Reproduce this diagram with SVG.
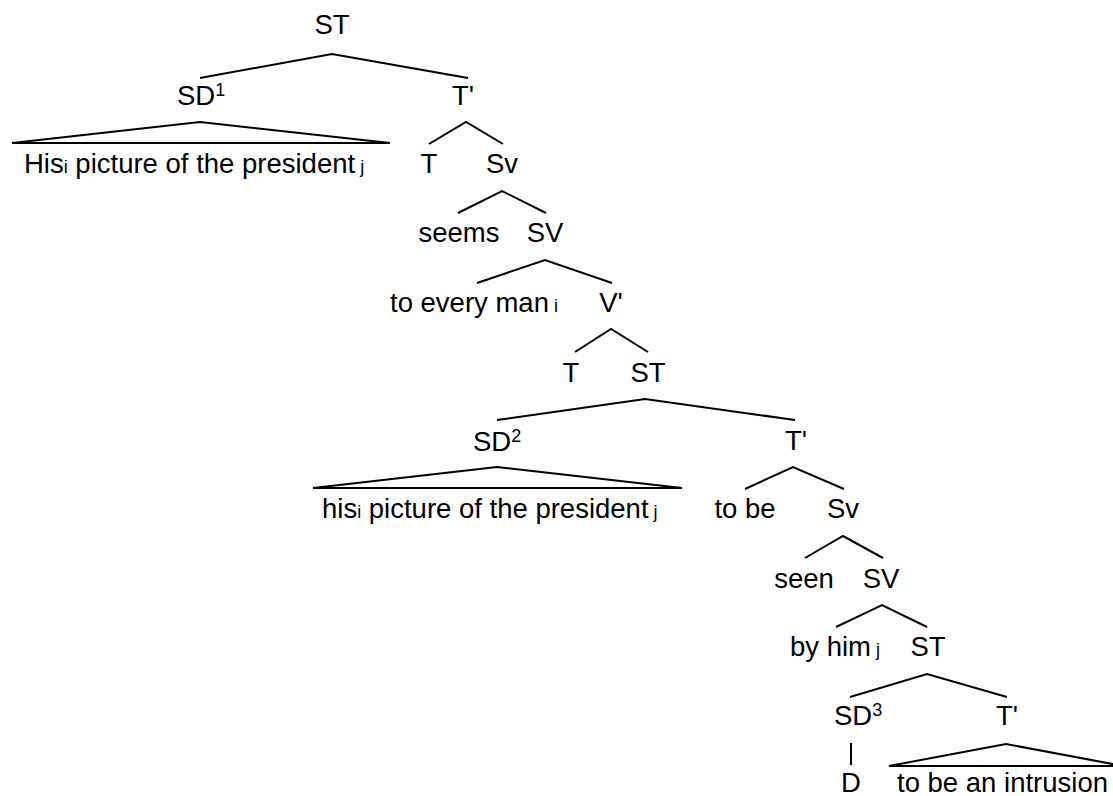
<svg xmlns="http://www.w3.org/2000/svg" width="1113" height="796" viewBox="0 0 1113 796">
<style>
text{font-family:"Liberation Sans",Arial,sans-serif;font-size:27.5px;fill:#000}
.c{text-anchor:middle}
.s{font-size:18px}
.e{stroke:#000;stroke-width:2;fill:none;stroke-linejoin:miter}
</style>
<rect width="1113" height="796" fill="#fff"/>
<g id="connectors">
<polyline class="e" points="200,78 332,54 468,78"/>
<path class="e" d="M12,143 L200,122 L390,143 Z"/>
<polyline class="e" points="429,144 466,122 503,144"/>
<polyline class="e" points="458,213 502,191 546,213"/>
<polyline class="e" points="477,283 545,260 612,283"/>
<polyline class="e" points="575,352 611,329 648,352"/>
<polyline class="e" points="497,420 645,399 795,420"/>
<path class="e" d="M313,488 L497,467 L682,488 Z"/>
<polyline class="e" points="745,489 793,467 844,489"/>
<polyline class="e" points="805,558 843,536 883,558"/>
<polyline class="e" points="836,627 882,605 927,627"/>
<polyline class="e" points="850,697 927,674 1007,697"/>
<line class="e" x1="851" y1="743" x2="851" y2="765"/>
<path class="e" d="M889,766 L1006,744 L1123,766 Z"/>
</g>
<g id="n-st1"><text class="c" x="332" y="34">ST</text></g>
<g id="n-sd1"><text x="177" y="105">SD<tspan class="s" dy="-9">1</tspan></text></g>
<g id="n-tbar1"><text class="c" x="463" y="105">T'</text></g>
<g id="n-his1"><text x="24" y="173">His<tspan class="s">i</tspan> picture of the president<tspan class="s"> j</tspan></text></g>
<g id="n-t1"><text class="c" x="429" y="173">T</text></g>
<g id="n-sv1"><text class="c" x="502" y="173">Sv</text></g>
<g id="n-seems"><text class="c" x="459" y="242">seems</text></g>
<g id="n-SV1"><text class="c" x="545" y="242">SV</text></g>
<g id="n-toevery"><text x="390" y="312">to every man<tspan class="s"> i</tspan></text></g>
<g id="n-vbar"><text class="c" x="611" y="312">V'</text></g>
<g id="n-t2"><text class="c" x="571" y="382">T</text></g>
<g id="n-st2"><text class="c" x="648" y="382">ST</text></g>
<g id="n-sd2"><text x="473" y="451">SD<tspan class="s" dy="-9">2</tspan></text></g>
<g id="n-tbar2"><text class="c" x="796" y="450">T'</text></g>
<g id="n-his2"><text x="322" y="518">his<tspan class="s">i</tspan> picture of the president<tspan class="s"> j</tspan></text></g>
<g id="n-tobe"><text class="c" x="745" y="518">to be</text></g>
<g id="n-sv2"><text class="c" x="843" y="518">Sv</text></g>
<g id="n-seen"><text class="c" x="804" y="588">seen</text></g>
<g id="n-SV2"><text class="c" x="881" y="588">SV</text></g>
<g id="n-byhim"><text x="790" y="656">by him<tspan class="s"> j</tspan></text></g>
<g id="n-st3"><text class="c" x="928" y="656">ST</text></g>
<g id="n-sd3"><text x="834" y="725">SD<tspan class="s" dy="-9">3</tspan></text></g>
<g id="n-tbar3"><text class="c" x="1007" y="725">T'</text></g>
<g id="n-d"><text class="c" x="851" y="792">D</text></g>
<g id="n-intrusion"><text x="897" y="792">to be an intrusion</text></g>
</svg>
